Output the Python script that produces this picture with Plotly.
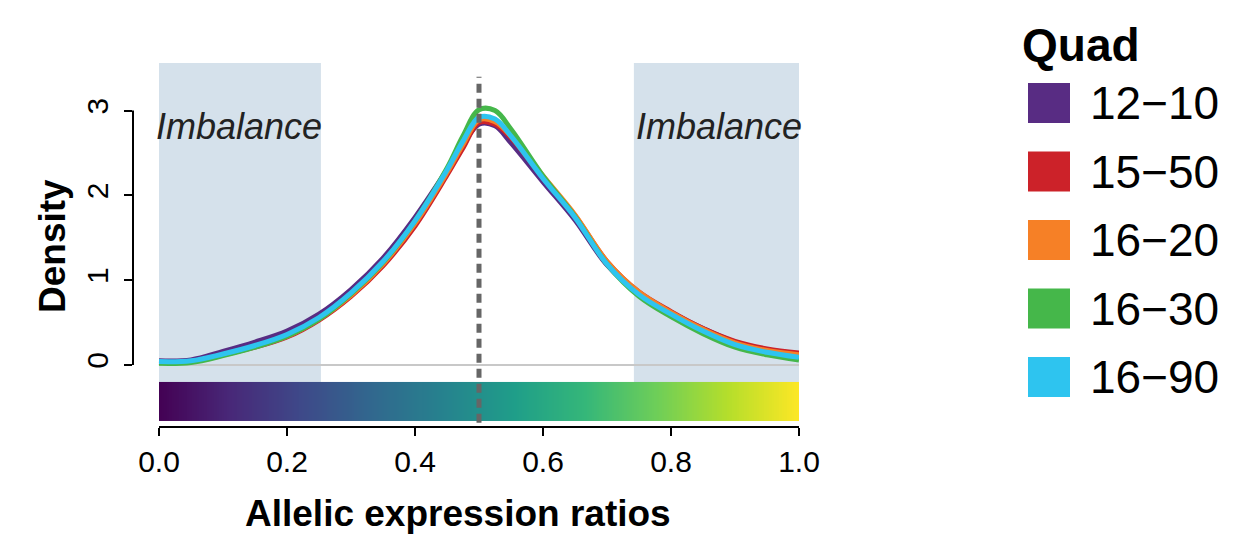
import numpy as np
import plotly.graph_objects as go

# ---------------- data ----------------
x_vals = [0.00, 0.05, 0.10, 0.15, 0.20, 0.25, 0.30, 0.35, 0.40, 0.45, 0.475, 0.50,
          0.525, 0.55, 0.60, 0.65, 0.70, 0.75, 0.80, 0.85, 0.90, 0.95, 1.00]

quad_names = ["12\u221210", "15\u221250", "16\u221220", "16\u221230", "16\u221290"]
quad_colors = ["#582C83", "#CC2229", "#F68026", "#45B74A", "#2EC4EF"]

dens_12_10 = [0.05, 0.06, 0.16, 0.27, 0.40, 0.60, 0.89, 1.26, 1.74, 2.30, 2.60, 2.84,
              2.82, 2.62, 2.16, 1.71, 1.18, 0.84, 0.62, 0.43, 0.27, 0.18, 0.13]
dens_15_50 = [0.03, 0.04, 0.12, 0.21, 0.33, 0.53, 0.81, 1.17, 1.64, 2.24, 2.56, 2.86,
              2.84, 2.68, 2.21, 1.76, 1.22, 0.86, 0.63, 0.43, 0.28, 0.19, 0.14]
dens_16_20 = [0.03, 0.04, 0.12, 0.22, 0.34, 0.54, 0.82, 1.19, 1.67, 2.27, 2.60, 2.89,
              2.87, 2.70, 2.23, 1.77, 1.22, 0.86, 0.62, 0.42, 0.26, 0.17, 0.12]
dens_16_30 = [0.02, 0.03, 0.11, 0.21, 0.34, 0.54, 0.84, 1.21, 1.70, 2.32, 2.70, 3.01,
              3.00, 2.78, 2.23, 1.75, 1.19, 0.81, 0.57, 0.37, 0.21, 0.12, 0.06]
dens_16_90 = [0.04, 0.05, 0.13, 0.23, 0.36, 0.56, 0.85, 1.22, 1.70, 2.30, 2.64, 2.92,
              2.90, 2.70, 2.20, 1.74, 1.19, 0.83, 0.60, 0.40, 0.24, 0.15, 0.09]
series = [dens_12_10, dens_15_50, dens_16_20, dens_16_30, dens_16_90]

x_ticks = [0.0, 0.2, 0.4, 0.6, 0.8, 1.0]
x_tick_labels = ["0.0", "0.2", "0.4", "0.6", "0.8", "1.0"]
y_ticks = [0, 1, 2, 3]
y_tick_labels = ["0", "1", "2", "3"]

imbalance_left = [0.0, 0.253]
imbalance_right = [0.742, 1.0]
balance_point = 0.5

# ---------------- layout geometry ----------------
W, H = 1257, 535
ML, MR, MT, MB = 133, 458, 63, 108
PX_PER_X = 640.0
PX_PER_Y = 84.8
plot_w = W - ML - MR
plot_h = H - MT - MB
x_range = [1.0 - plot_w / PX_PER_X, 1.0]
y_bottom = -(H - MB - 365) / PX_PER_Y
y_range = [y_bottom, y_bottom + plot_h / PX_PER_Y]

FONT = "Liberation Sans, Arial, Helvetica, sans-serif"


def px_x(px):
    return (px - ML) / plot_w


def px_y(py):
    return (H - MB - py) / plot_h


fig = go.Figure()

# viridis ratio strip
strip_edges = np.linspace(0, 1, 257)
strip_z = [list((strip_edges[:-1] + strip_edges[1:]) / 2)]
fig.add_trace(go.Heatmap(
    x=strip_edges, y=[-0.657, -0.2], z=strip_z,
    colorscale="Viridis", zmin=0, zmax=1, showscale=False, hoverinfo="skip"))

for name, col, ys in zip(quad_names, quad_colors, series):
    fig.add_trace(go.Scatter(
        x=x_vals, y=ys, mode="lines", name=name,
        line=dict(color=col, width=5, shape="spline", smoothing=1.0),
        showlegend=False))

shapes = []
for x0, x1 in (imbalance_left, imbalance_right):
    shapes.append(dict(type="rect", xref="x", yref="y", x0=x0, x1=x1,
                       y0=-0.2, y1=y_range[1], fillcolor="#D5E1EB",
                       line=dict(width=0), layer="below"))
shapes.append(dict(type="line", xref="x", yref="y", x0=0, x1=1, y0=0, y1=0,
                   line=dict(color="#C8C8C8", width=2), layer="below"))
shapes.append(dict(type="line", xref="x", yref="y", x0=balance_point, x1=balance_point,
                   y0=-0.68, y1=3.4,
                   line=dict(color="#666666", width=5, dash="9px,6px"), layer="above"))
# R-style axis lines
shapes.append(dict(type="line", xref="paper", yref="y", x0=0, x1=0, y0=0, y1=3,
                   line=dict(color="black", width=2), layer="above"))
shapes.append(dict(type="line", xref="x", yref="paper", x0=0, x1=1, y0=0, y1=0,
                   line=dict(color="black", width=2), layer="above"))

annotations = []
for (x0, x1) in (imbalance_left, imbalance_right):
    annotations.append(dict(x=0.125 if x0 == 0 else 0.875, y=2.81, xref="x", yref="y",
                            xanchor="center", yanchor="middle",
                            text="<i>Imbalance</i>", showarrow=False,
                            font=dict(family=FONT, size=36, color="#222222")))
annotations.append(dict(x=px_x(458), y=px_y(513), xref="paper", yref="paper",
                        xanchor="center", yanchor="middle",
                        text="<b>Allelic expression ratios</b>", showarrow=False,
                        font=dict(family=FONT, size=37, color="black")))
annotations.append(dict(x=px_x(52), y=px_y(246), xref="paper", yref="paper",
                        xanchor="center", yanchor="middle",
                        text="<b>Density</b>", showarrow=False, textangle=-90,
                        font=dict(family=FONT, size=37, color="black")))

# manual legend
annotations.append(dict(x=px_x(1020), y=px_y(45), xref="paper", yref="paper",
                        xanchor="left", yanchor="middle", text="<b>Quad</b>",
                        showarrow=False,
                        font=dict(family=FONT, size=46, color="black")))
for i, (name, col) in enumerate(zip(quad_names, quad_colors)):
    top = 83 + i * 68.5
    shapes.append(dict(type="rect", xref="paper", yref="paper",
                       x0=px_x(1028), x1=px_x(1070), y0=px_y(top + 40), y1=px_y(top),
                       fillcolor=col, line=dict(width=0)))
    annotations.append(dict(x=px_x(1088), y=px_y(top + 20), xref="paper", yref="paper",
                            xanchor="left", yanchor="middle", text=name, showarrow=False,
                            font=dict(family=FONT, size=46, color="black")))

fig.update_layout(
    width=W, height=H,
    margin=dict(l=ML, r=MR, t=MT, b=MB, pad=0),
    paper_bgcolor="white", plot_bgcolor="white",
    shapes=shapes, annotations=annotations, showlegend=False,
    xaxis=dict(range=x_range, tickvals=x_ticks, ticktext=x_tick_labels,
               ticks="outside", ticklen=8, tickwidth=2, tickcolor="black",
               showgrid=False, zeroline=False, showline=False,
               tickfont=dict(family=FONT, size=30, color="black")),
    yaxis=dict(range=y_range, tickvals=y_ticks, ticktext=y_tick_labels,
               ticks="outside", ticklen=8, tickwidth=2, tickcolor="black",
               tickangle=-90, showgrid=False, zeroline=False, showline=False,
               ticklabelstandoff=4,
               tickfont=dict(family=FONT, size=30, color="black")),
)

fig.write_html("out.html")
